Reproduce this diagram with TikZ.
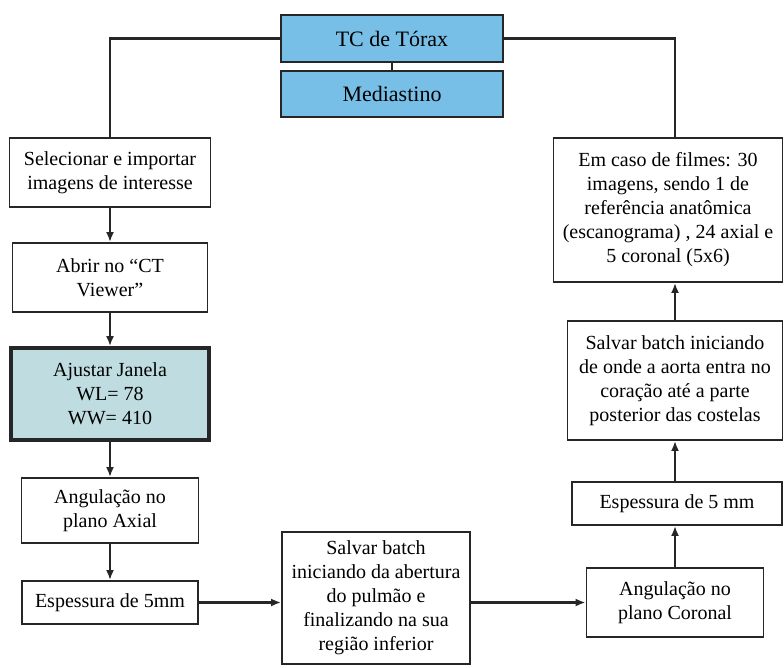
\documentclass[tikz,border=0pt]{standalone}
\usepackage{fontspec}
\IfFontExistsTF{LiberationSerif-Regular.ttf}
    {\setmainfont{LiberationSerif-Regular.ttf}}
    {\setmainfont{Liberation Serif}}
\usepackage{xcolor}
\usetikzlibrary{arrows.meta,positioning}

\begin{document}
\begin{tikzpicture}[x=0.75pt, y=-0.75pt,
    stepbox/.style={draw=lineCol, line width=1.4pt, fill=white, align=center, inner sep=2pt,
        font=\rmfamily\fontsize{15pt}{18pt}\selectfont},
    headbox/.style={stepbox, fill=headCol, font=\rmfamily\fontsize{16.5pt}{19pt}\selectfont},
    keybox/.style={stepbox, fill=keyCol, line width=2.8pt},
    flow/.style={-{Latex[length=7.5pt, width=6pt]}, line width=1.6pt, draw=lineCol},
    link/.style={line width=1.6pt, draw=lineCol}]

    % Colors
    \definecolor{lineCol}{HTML}{262626}
    \definecolor{headCol}{HTML}{77BFE7}
    \definecolor{keyCol}{HTML}{BFDDE0}

    \useasboundingbox (0,0) rectangle (784,667);

    % 1. Header
    \node[headbox, minimum width=166.5pt, minimum height=35.25pt] (tc) at (392,38.5) {TC de Tórax};
    \node[headbox, minimum width=166.5pt, minimum height=34.5pt] (med) at (392,94) {Mediastino};

    % 2. Left column (axial)
    \node[stepbox, minimum width=150.75pt, minimum height=51.75pt] (sel) at (110,172.5) {Selecionar e importar\\imagens de interesse};
    \node[stepbox, minimum width=146.25pt, minimum height=51.75pt] (abr) at (110,277.5) {Abrir no “CT\\Viewer”};
    \node[keybox, minimum width=148.5pt, minimum height=69pt] (aju) at (110,394) {Ajustar Janela\\WL= 78\\WW= 410};
    \node[stepbox, minimum width=132.75pt, minimum height=48.75pt] (axi) at (110,510.5) {Angulação no\\plano Axial};
    \node[stepbox, minimum width=132pt, minimum height=32.25pt] (espA) at (110,602.5) {Espessura de 5mm};

    % 3. Middle
    \node[stepbox, minimum width=141pt, minimum height=99pt] (salv) at (376,598) {Salvar batch\\iniciando da abertura\\do pulmão e\\finalizando na sua\\região inferior};

    % 4. Right column (coronal)
    \node[stepbox, minimum width=132.75pt, minimum height=51.75pt] (cor) at (675,602.5) {Angulação no\\plano Coronal};
    \node[stepbox, minimum width=157.5pt, minimum height=32.25pt] (espC) at (677,503.5) {Espessura de 5 mm};
    \node[stepbox, minimum width=161.25pt, minimum height=89.25pt] (aor) at (675,380.5) {Salvar batch iniciando\\de onde a aorta entra no\\coração até a parte\\posterior das costelas};
    \node[stepbox, minimum width=171.75pt, minimum height=108pt] (emc) at (668,210) {Em caso de filmes: 30\\imagens, sendo 1 de\\referência anatômica\\(escanograma) , 24 axial e\\5 coronal (5x6)};

    % 5. Connectors
    \draw[link] (tc.south) -- (med.north);
    \draw[link] (tc.west) -| (sel.north);
    \draw[link] (tc.east) -| (aor.north |- emc.north);

    \draw[flow] (sel.south) -- (abr.north);
    \draw[flow] (abr.south) -- (aju.north);
    \draw[flow] (aju.south) -- (axi.north);
    \draw[flow] (axi.south) -- (espA.north);
    \draw[flow] (espA.east) -- (espA.east -| salv.west);
    \draw[flow] (cor.west -| salv.east) -- (cor.west);
    \draw[flow] (cor.north) -- (cor.north |- espC.south);
    \draw[flow] (espC.north -| aor.south) -- (aor.south);
    \draw[flow] (aor.north) -- (aor.north |- emc.south);
\end{tikzpicture}
\end{document}
